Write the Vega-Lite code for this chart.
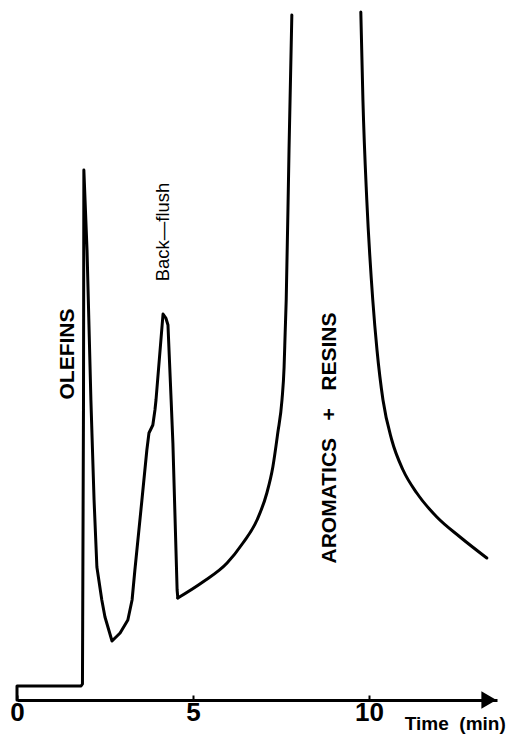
{
  "$schema": "https://vega.github.io/schema/vega-lite/v6.json",
  "width": 480,
  "height": 700,
  "autosize": "none",
  "padding": {"left": 17, "top": 0, "right": 20, "bottom": 38},
  "background": "white",
  "config": {"view": {"stroke": null}, "font": "Liberation Sans"},
  "datasets": {
    "trace": [
      {"seg": "a", "i": 1, "t": 0, "s": 0},
      {"seg": "a", "i": 2, "t": 0, "s": 1.4},
      {"seg": "a", "i": 3, "t": 1.82, "s": 1.4},
      {"seg": "a", "i": 4, "t": 1.86, "s": 1.6},
      {"seg": "a", "i": 5, "t": 1.89, "s": 30},
      {"seg": "a", "i": 6, "t": 1.9, "s": 53},
      {"seg": "a", "i": 7, "t": 1.99, "s": 45},
      {"seg": "a", "i": 8, "t": 2.1, "s": 30},
      {"seg": "a", "i": 9, "t": 2.19, "s": 20},
      {"seg": "a", "i": 10, "t": 2.27, "s": 13.3},
      {"seg": "a", "i": 11, "t": 2.41, "s": 10},
      {"seg": "a", "i": 12, "t": 2.5, "s": 8.3},
      {"seg": "a", "i": 13, "t": 2.7, "s": 5.9},
      {"seg": "a", "i": 14, "t": 2.93, "s": 6.7},
      {"seg": "a", "i": 15, "t": 3.15, "s": 8.0},
      {"seg": "a", "i": 16, "t": 3.27, "s": 10},
      {"seg": "a", "i": 17, "t": 3.35, "s": 13},
      {"seg": "a", "i": 18, "t": 3.55, "s": 20},
      {"seg": "a", "i": 19, "t": 3.69, "s": 25},
      {"seg": "a", "i": 20, "t": 3.75, "s": 26.7},
      {"seg": "a", "i": 21, "t": 3.86, "s": 27.5},
      {"seg": "a", "i": 22, "t": 3.92, "s": 29},
      {"seg": "a", "i": 23, "t": 3.95, "s": 30},
      {"seg": "a", "i": 24, "t": 4.15, "s": 38.6},
      {"seg": "a", "i": 25, "t": 4.23, "s": 38.2},
      {"seg": "a", "i": 26, "t": 4.29, "s": 37.5},
      {"seg": "a", "i": 27, "t": 4.38, "s": 30},
      {"seg": "a", "i": 28, "t": 4.43, "s": 25.7},
      {"seg": "a", "i": 29, "t": 4.55, "s": 11},
      {"seg": "a", "i": 30, "t": 4.57, "s": 10.2},
      {"seg": "c", "i": 1, "t": 4.57, "s": 10.2},
      {"seg": "c", "i": 2, "t": 5.28, "s": 11.8},
      {"seg": "c", "i": 3, "t": 5.97, "s": 13.7},
      {"seg": "c", "i": 4, "t": 6.42, "s": 15.7},
      {"seg": "c", "i": 5, "t": 6.82, "s": 18},
      {"seg": "c", "i": 6, "t": 7.1, "s": 20.7},
      {"seg": "c", "i": 7, "t": 7.27, "s": 23.3},
      {"seg": "c", "i": 8, "t": 7.41, "s": 26.7},
      {"seg": "c", "i": 9, "t": 7.53, "s": 30},
      {"seg": "c", "i": 10, "t": 7.59, "s": 33.3},
      {"seg": "c", "i": 11, "t": 7.62, "s": 36.7},
      {"seg": "c", "i": 12, "t": 7.65, "s": 40},
      {"seg": "c", "i": 13, "t": 7.73, "s": 55},
      {"seg": "c", "i": 14, "t": 7.81, "s": 68.5},
      {"seg": "b", "i": 1, "t": 9.77, "s": 68.8},
      {"seg": "b", "i": 2, "t": 9.83, "s": 60},
      {"seg": "b", "i": 3, "t": 9.94, "s": 50},
      {"seg": "b", "i": 4, "t": 10.11, "s": 40},
      {"seg": "b", "i": 5, "t": 10.23, "s": 35},
      {"seg": "b", "i": 6, "t": 10.4, "s": 30},
      {"seg": "b", "i": 7, "t": 10.65, "s": 26},
      {"seg": "b", "i": 8, "t": 10.97, "s": 23},
      {"seg": "b", "i": 9, "t": 11.36, "s": 20.7},
      {"seg": "b", "i": 10, "t": 11.93, "s": 18.3},
      {"seg": "b", "i": 11, "t": 12.59, "s": 16.3},
      {"seg": "b", "i": 12, "t": 13.35, "s": 14.2}
    ]
  },
  "layer": [
    {
      "data": {"name": "trace"},
      "transform": [{"filter": "datum.seg == 'a'"}],
      "mark": {"type": "line", "color": "black", "strokeWidth": 3, "strokeJoin": "round", "strokeCap": "round"},
      "encoding": {
        "x": {
          "field": "t", "type": "quantitative",
          "scale": {"domain": [0, 13.64], "nice": false, "zero": false},
          "axis": {
            "values": [0, 5, 10], "title": null, "grid": false,
            "domainColor": "black", "domainWidth": 3,
            "tickColor": "black", "tickWidth": 2, "tickSize": -5,
            "labelFont": "Liberation Sans", "labelFontWeight": "bold",
            "labelFontSize": 26, "labelColor": "black", "labelPadding": 4, "labelFlush": false
          }
        },
        "y": {"field": "s", "type": "quantitative", "scale": {"domain": [0, 70], "nice": false}, "axis": null},
        "order": {"field": "i"}
      }
    },
    {
      "data": {"name": "trace"},
      "transform": [{"filter": "datum.seg != 'a'"}],
      "mark": {"type": "line", "color": "black", "strokeWidth": 3, "strokeJoin": "round", "strokeCap": "round", "interpolate": "monotone"},
      "encoding": {
        "x": {"field": "t", "type": "quantitative"},
        "y": {"field": "s", "type": "quantitative"},
        "detail": {"field": "seg"},
        "order": {"field": "i"}
      }
    },
    {
      "data": {"values": [{"t": 13.41, "s": 0}]},
      "mark": {"type": "point", "shape": "triangle-right", "filled": true, "color": "black", "opacity": 1, "size": 300},
      "encoding": {
        "x": {"field": "t", "type": "quantitative"},
        "y": {"field": "s", "type": "quantitative"}
      }
    },
    {
      "data": {"values": [{"t": 1.45, "s": 34.6, "label": "OLEFINS"}, {"t": 8.89, "s": 26.2, "label": "AROMATICS\u00a0\u00a0\u00a0+\u00a0\u00a0\u00a0RESINS"}]},
      "mark": {"type": "text", "angle": 270, "align": "center", "baseline": "middle", "font": "Liberation Sans", "fontWeight": "bold", "fontSize": 21, "color": "black"},
      "encoding": {
        "x": {"field": "t", "type": "quantitative"},
        "y": {"field": "s", "type": "quantitative"},
        "text": {"field": "label"}
      }
    },
    {
      "data": {"values": [{"t": 4.15, "s": 46.8, "label": "Back—flush"}]},
      "mark": {"type": "text", "angle": 270, "align": "center", "baseline": "middle", "font": "Liberation Sans", "fontSize": 18.5, "color": "black"},
      "encoding": {
        "x": {"field": "t", "type": "quantitative"},
        "y": {"field": "s", "type": "quantitative"},
        "text": {"field": "label"}
      }
    },
    {
      "data": {"values": [{"t": 11.02, "s": -2.4, "label": "Time\u00a0\u00a0(min)"}]},
      "mark": {"type": "text", "align": "left", "baseline": "middle", "font": "Liberation Sans", "fontWeight": "bold", "fontSize": 19, "color": "black"},
      "encoding": {
        "x": {"field": "t", "type": "quantitative"},
        "y": {"field": "s", "type": "quantitative"},
        "text": {"field": "label"}
      }
    }
  ]
}
